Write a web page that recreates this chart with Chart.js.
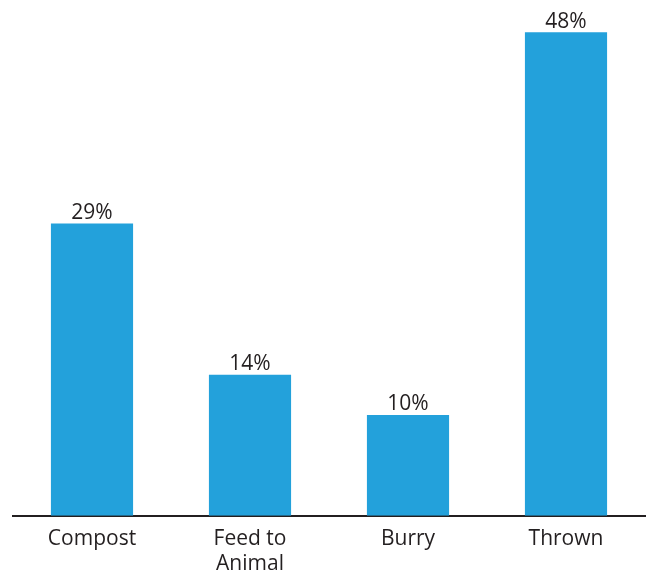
<!DOCTYPE html>
<html>
<head>
<meta charset="utf-8">
<script src="https://cdn.jsdelivr.net/npm/chart.js@4"></script>
<style>
  html, body { margin: 0; padding: 0; background: #fff; }
</style>
</head>
<body>
<canvas id="myChart" width="649" height="579"></canvas>
<script>
var categories = [['Compost'], ['Feed to', 'Animal'], ['Burry'], ['Thrown']];
var values = [29, 14, 10, 48];
var valueLabels = ['29%', '14%', '10%', '48%'];

var textColor = '#231f20';
var fontFamily = '"Open Sans", "Noto Sans", sans-serif';

var barLabels = {
    id: 'barLabels',
    afterDatasetsDraw: function (chart) {
        var c = chart.ctx;
        var meta = chart.getDatasetMeta(0);
        c.save();
        c.fillStyle = textColor;
        c.font = '21px ' + fontFamily;
        c.textAlign = 'center';
        c.textBaseline = 'bottom';
        meta.data.forEach(function (bar, i) {
            c.fillText(valueLabels[i], bar.x, bar.y);
        });
        c.restore();
    }
};

var ctx = document.getElementById('myChart').getContext('2d');
var myChart = new Chart(ctx, {
    type: 'bar',
    data: {
        labels: categories,
        datasets: [{
            data: values,
            backgroundColor: 'rgb(35, 161, 219)',
            barPercentage: 0.52,
            categoryPercentage: 1
        }]
    },
    options: {
        responsive: false,
        animation: false,
        layout: { padding: { left: 13, right: 4, top: 12, bottom: 0 } },
        plugins: {
            legend: { display: false },
            tooltip: { enabled: false }
        },
        scales: {
            x: {
                grid: { display: false },
                border: { color: textColor, width: 2 },
                ticks: {
                    color: textColor,
                    font: { family: fontFamily, size: 21, lineHeight: 1.22 },
                    padding: 2,
                    maxRotation: 0
                }
            },
            y: {
                display: false,
                min: 0,
                max: 50
            }
        }
    },
    plugins: [barLabels]
});
</script>
</body>
</html>
